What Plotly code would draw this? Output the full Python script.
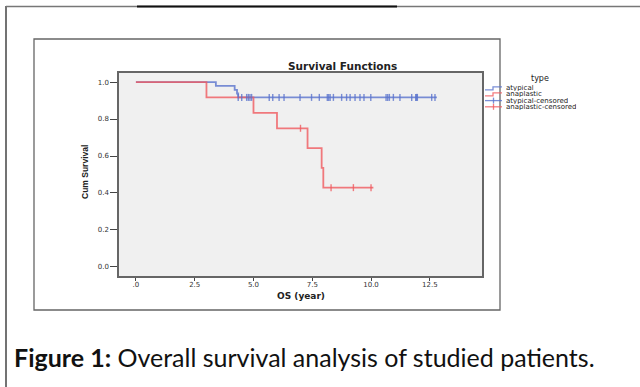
import plotly.graph_objects as go

# ---- data ----
atyp_times = [0.0, 3.4, 4.2, 4.3, 4.35, 12.8]
atyp_surv = [1.0, 0.979, 0.958, 0.938, 0.917, 0.917]
atyp_cens_times = [4.35, 4.5, 4.71, 4.78, 4.85, 4.92, 5.67, 5.82, 6.09, 6.3, 6.98,
                   7.47, 7.8, 8.14, 8.2, 8.26, 8.4, 8.75, 8.96, 9.11, 9.32, 9.53,
                   9.7, 9.99, 10.64, 10.71, 10.78, 10.95, 11.23, 11.73, 11.9,
                   11.94, 11.97, 12.58, 12.72]
atyp_cens_surv = [0.917] * len(atyp_cens_times)

anap_times = [0.0, 3.0, 5.0, 6.0, 7.3, 7.9, 7.97, 10.1]
anap_surv = [1.0, 0.917, 0.833, 0.75, 0.643, 0.536, 0.429, 0.429]
anap_cens_times = [7.0, 8.3, 9.25, 10.0]
anap_cens_surv = [0.75, 0.429, 0.429, 0.429]

x_tickvals = [0, 2.5, 5.0, 7.5, 10.0, 12.5]
x_ticktext = [".0", "2.5", "5.0", "7.5", "10.0", "12.5"]
y_tickvals = [0.0, 0.2, 0.4, 0.6, 0.8, 1.0]
y_ticktext = ["0.0", "0.2", "0.4", "0.6", "0.8", "1.0"]
legend_labels = ["atypical", "anaplastic", "atypical-censored", "anaplastic-censored"]

BLUE = "rgba(90,115,205,0.8)"
RED = "rgba(240,90,95,0.8)"
SPSS_FONT = "DejaVu Sans, Verdana, sans-serif"

W, H = 640, 387
L, R, T, B = 119, 482, 73, 276


def px(x):
    return (x - L) / (R - L)


def py(y):
    return (B - y) / (B - T)


fig = go.Figure()
fig.add_trace(go.Scatter(x=atyp_times, y=atyp_surv, mode="lines", line_shape="hv",
                         line=dict(color=BLUE, width=1.8), showlegend=False))
fig.add_trace(go.Scatter(x=anap_times, y=anap_surv, mode="lines", line_shape="hv",
                         line=dict(color=RED, width=1.8), showlegend=False))
fig.add_trace(go.Scatter(x=atyp_cens_times, y=atyp_cens_surv, mode="markers",
                         marker=dict(symbol="line-ns", size=5,
                                     line=dict(color=BLUE, width=1.4)),
                         showlegend=False))
fig.add_trace(go.Scatter(x=anap_cens_times, y=anap_cens_surv, mode="markers",
                         marker=dict(symbol="line-ns", size=5,
                                     line=dict(color=RED, width=1.4)),
                         showlegend=False))

shapes = []
# outer page frame
shapes.append(dict(type="line", xref="paper", yref="paper", x0=px(6), x1=px(6),
                   y0=py(6), y1=py(400), line=dict(color="#444", width=1.5)))
shapes.append(dict(type="line", xref="paper", yref="paper", x0=px(6), x1=px(650),
                   y0=py(6.5), y1=py(6.5), line=dict(color="#777", width=1.5)))
shapes.append(dict(type="line", xref="paper", yref="paper", x0=px(137), x1=px(397),
                   y0=py(6.5), y1=py(6.5), line=dict(color="#111", width=2)))
# figure box
shapes.append(dict(type="rect", xref="paper", yref="paper", x0=px(34), x1=px(500),
                   y0=py(39), y1=py(310), line=dict(color="#666", width=1.3)))

# legend symbols
leg_y = [88.3, 94.4, 100.6, 106.8]
colors = [BLUE, RED, BLUE, RED]
for i, (yy, c) in enumerate(zip(leg_y, colors)):
    if i < 2:
        pts = [(485, yy + 1.5), (493, yy + 1.5), (493, yy - 1.5), (502, yy - 1.5)]
        path = "M " + " L ".join(f"{px(a)},{py(b)}" for a, b in pts)
        shapes.append(dict(type="path", xref="paper", yref="paper", path=path,
                           line=dict(color=c, width=1.3)))
    else:
        shapes.append(dict(type="line", xref="paper", yref="paper", x0=px(485), x1=px(502),
                           y0=py(yy), y1=py(yy), line=dict(color=c, width=1.3)))
        shapes.append(dict(type="line", xref="paper", yref="paper", x0=px(493.5), x1=px(493.5),
                           y0=py(yy - 3), y1=py(yy + 3), line=dict(color=c, width=1.3)))

annotations = []
for yy, lab in zip(leg_y, legend_labels):
    annotations.append(dict(x=px(505), y=py(yy), xref="paper", yref="paper", text=lab,
                            showarrow=False, xanchor="left", yanchor="middle",
                            height=6, borderpad=0,
                            font=dict(family=SPSS_FONT, size=7, color="#222")))
annotations.append(dict(x=px(540), y=py(78), xref="paper", yref="paper", text="type",
                        showarrow=False, xanchor="center", yanchor="middle",
                        font=dict(family=SPSS_FONT, size=8, color="#222")))
annotations.append(dict(x=px(342), y=py(66), xref="paper", yref="paper",
                        text="<b>Survival Functions</b>", showarrow=False,
                        xanchor="center", yanchor="middle",
                        font=dict(family=SPSS_FONT, size=10.5, color="#222")))
annotations.append(dict(x=px(301), y=py(295.5), xref="paper", yref="paper",
                        text="<b>OS (year)</b>", showarrow=False,
                        xanchor="center", yanchor="middle",
                        font=dict(family=SPSS_FONT, size=9, color="#222")))
annotations.append(dict(x=px(85), y=py(172), xref="paper", yref="paper",
                        text="<b>Cum Survival</b>", showarrow=False, textangle=-90,
                        xanchor="center", yanchor="middle",
                        font=dict(family="Liberation Sans Narrow, Liberation Sans, Arial",
                                  size=8.5, color="#222")))
annotations.append(dict(x=px(12), y=py(357), xref="paper", yref="paper",
                        text="<b>Figure 1:</b> Overall survival analysis of studied patients.",
                        showarrow=False, xanchor="left", yanchor="middle",
                        font=dict(family="Lato, Open Sans, sans-serif", size=25, color="#111")))

fig.update_layout(
    width=W, height=H,
    margin=dict(l=L, r=W - R, t=T, b=H - B, pad=0),
    paper_bgcolor="white", plot_bgcolor="#f0f0f0",
    showlegend=False,
    shapes=shapes, annotations=annotations,
    xaxis=dict(range=[-0.72, 14.72], tickvals=x_tickvals, ticktext=x_ticktext,
               showgrid=False, zeroline=False, showline=True, linecolor="#666",
               linewidth=1.5, mirror=True, ticks="outside", ticklen=3, tickcolor="#444",
               ticklabelstandoff=-2,
               tickfont=dict(family=SPSS_FONT, size=7, color="#333")),
    yaxis=dict(range=[-0.049, 1.049], tickvals=y_tickvals, ticktext=y_ticktext,
               showgrid=False, zeroline=False, showline=True, linecolor="#666",
               linewidth=1.5, mirror=True, ticks="outside", ticklen=7, tickcolor="#444",
               tickfont=dict(family=SPSS_FONT, size=7, color="#333")),
)

fig.write_html("out.html", config={"displayModeBar": False})

# remove the browser's default 8px body margin so the figure sits at the page origin
with open("out.html", "r", encoding="utf-8") as f:
    html = f.read()
html = html.replace("<body>", '<body style="margin:0;padding:0;">', 1)
with open("out.html", "w", encoding="utf-8") as f:
    f.write(html)
